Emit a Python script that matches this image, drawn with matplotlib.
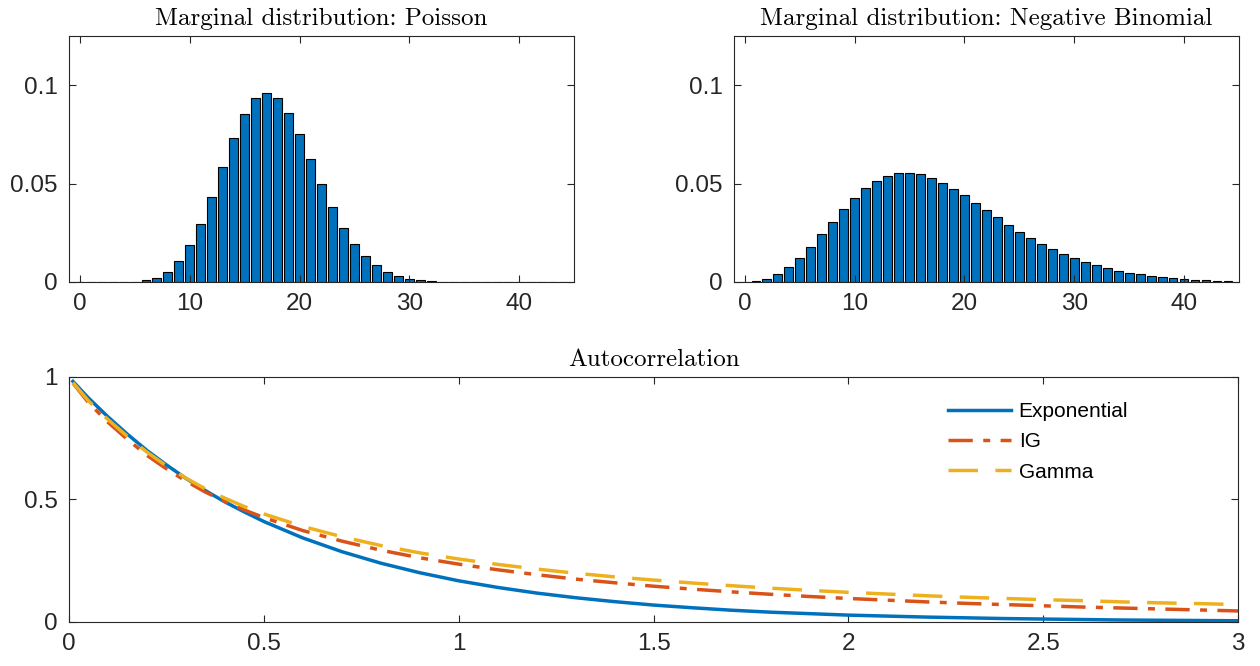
import numpy as np
import matplotlib
matplotlib.use("Agg")
from matplotlib import pyplot as plt

plt.rcParams['font.family'] = ['Liberation Sans', 'DejaVu Sans']

# marginal pmf, Poisson (k = 0..44)
k = np.arange(0, 45)
poisson_p = [0.00002, 0.00002, 0.00002, 0.00002, 0.0001, 0.0002, 0.0009, 0.0022, 0.0053, 0.0106,
             0.0186, 0.0297, 0.0433, 0.0585, 0.0732, 0.0855, 0.0933, 0.0961, 0.0933, 0.0860,
             0.0754, 0.0626, 0.0497, 0.0379, 0.0276, 0.0193, 0.0130, 0.0084, 0.0051, 0.0031,
             0.0017, 0.0009, 0.0004, 0.0002, 0.0001, 0.00005, 0.00002, 0.00002, 0.00002, 0.00002,
             0.00002, 0.00002, 0.00002, 0.00002, 0.00002]
# marginal pmf, Negative Binomial
negbin_p = [0.0001, 0.0005, 0.0017, 0.0039, 0.0075, 0.0123, 0.0179, 0.0242, 0.0307, 0.0370,
            0.0428, 0.0476, 0.0515, 0.0541, 0.0553, 0.0556, 0.0548, 0.0529, 0.0505, 0.0473,
            0.0440, 0.0403, 0.0365, 0.0328, 0.0292, 0.0256, 0.0224, 0.0195, 0.0167, 0.0143,
            0.0121, 0.0102, 0.0085, 0.0070, 0.0056, 0.0048, 0.0039, 0.0031, 0.0026, 0.0020,
            0.0017, 0.0012, 0.0010, 0.0007, 0.0005]

# autocorrelation
lag = [0.01, 0.05, 0.1, 0.15, 0.2, 0.25, 0.3, 0.35, 0.4, 0.45, 0.5, 0.6, 0.7, 0.8, 0.9, 1.0,
       1.1, 1.2, 1.3, 1.4, 1.5, 1.6, 1.7, 1.8, 1.9, 2.0, 2.1, 2.2, 2.3, 2.4, 2.5,
       2.6, 2.7, 2.8, 2.9, 3.0]
acf_exp = [0.982, 0.914, 0.837, 0.766, 0.700, 0.641, 0.586, 0.536, 0.490, 0.449, 0.410, 0.343,
           0.287, 0.240, 0.201, 0.168, 0.141, 0.118, 0.099, 0.083, 0.069, 0.058, 0.048, 0.040,
           0.034, 0.028, 0.024, 0.020, 0.017, 0.014, 0.012, 0.010, 0.008, 0.007, 0.006, 0.005]
acf_ig = [0.975, 0.895, 0.815, 0.745, 0.680, 0.625, 0.575, 0.530, 0.492, 0.457, 0.426, 0.373,
          0.330, 0.293, 0.262, 0.236, 0.213, 0.193, 0.175, 0.160, 0.146, 0.134, 0.123, 0.113,
          0.104, 0.096, 0.089, 0.082, 0.076, 0.071, 0.066, 0.061, 0.057, 0.053, 0.049, 0.045]
acf_gamma = [0.977, 0.902, 0.826, 0.757, 0.693, 0.637, 0.587, 0.543, 0.505, 0.471, 0.441, 0.390,
             0.348, 0.312, 0.282, 0.257, 0.235, 0.216, 0.199, 0.184, 0.171, 0.159, 0.148, 0.138,
             0.129, 0.121, 0.114, 0.107, 0.101, 0.096, 0.091, 0.087, 0.082, 0.078, 0.075, 0.071]

blue = '#0072BD'
red = '#D95319'
yellow = '#EDB120'
axcol = '#262626'


def style(ax):
    ax.tick_params(direction='in', top=True, right=True, length=5, width=0.8,
                   labelsize=17.5, colors=axcol, pad=8)
    for s in ax.spines.values():
        s.set_color(axcol)
        s.set_linewidth(0.8)


fig = plt.figure(figsize=(12.6, 6.66), dpi=100)
ax1 = fig.add_axes([0.0548, 0.5766, 0.4008, 0.3694])
ax2 = fig.add_axes([0.5825, 0.5766, 0.4008, 0.3694])
ax3 = fig.add_axes([0.0548, 0.0661, 0.9278, 0.3679])

for ax, p, name in [(ax1, poisson_p, 'Poisson'), (ax2, negbin_p, 'Negative Binomial')]:
    ax.bar(k, p, width=0.8, color=blue, edgecolor='black', linewidth=0.8)
    ax.set_xlim(-1, 45)
    ax.set_ylim(0, 0.125)
    ax.set_xticks([0, 10, 20, 30, 40])
    ax.set_yticks([0, 0.05, 0.1])
    ax.set_yticklabels(['0', '0.05', '0.1'])
    ax.set_title('Marginal distribution: ' + name, fontsize=18, pad=8, family='cmr10')
    style(ax)

ax3.plot(lag, acf_exp, color=blue, lw=2.5, label='Exponential')
ax3.plot(lag, acf_ig, color=red, lw=2.5, dashes=(7, 3, 2, 3), label='IG')
ax3.plot(lag, acf_gamma, color=yellow, lw=2.5, dashes=(8.5, 5), label='Gamma')
ax3.set_xlim(0, 3)
ax3.set_ylim(0, 1)
ax3.set_xticks([0, 0.5, 1, 1.5, 2, 2.5, 3])
ax3.set_xticklabels(['0', '0.5', '1', '1.5', '2', '2.5', '3'])
ax3.set_yticks([0, 0.5, 1])
ax3.set_yticklabels(['0', '0.5', '1'])
ax3.set_title('Autocorrelation', fontsize=18, pad=8, family='cmr10')
style(ax3)
ax3.legend(loc='upper right', frameon=False, fontsize=15, handlelength=3.05,
           handletextpad=0.35, labelspacing=0.55, bbox_to_anchor=(0.922, 0.975))

fig.savefig('out.png', dpi=100)
